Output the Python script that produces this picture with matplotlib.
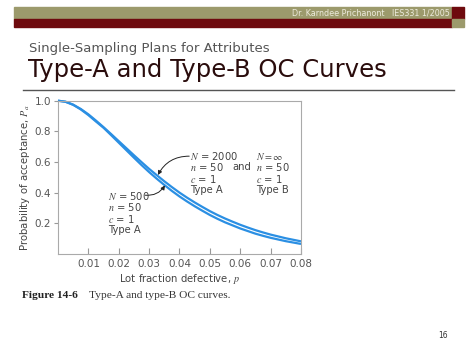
import matplotlib
matplotlib.use('Agg')
import matplotlib.pyplot as plt
from matplotlib.patches import Rectangle
from matplotlib.lines import Line2D

W, H = 474, 355

# values
p = [0.0, 0.0025, 0.005, 0.0075, 0.01, 0.0125, 0.015, 0.0175, 0.02,
     0.0225, 0.025, 0.0275, 0.03, 0.0325, 0.035, 0.0375, 0.04,
     0.0425, 0.045, 0.0475, 0.05, 0.0525, 0.055, 0.0575, 0.06,
     0.0625, 0.065, 0.0675, 0.07, 0.0725, 0.075, 0.0775, 0.08]
pa_typeb = [1.0, 0.993, 0.974, 0.946, 0.911, 0.870, 0.827, 0.782, 0.736,
            0.690, 0.644, 0.599, 0.555, 0.514, 0.474, 0.436, 0.400,
            0.367, 0.336, 0.307, 0.279, 0.254, 0.231, 0.210, 0.190,
            0.172, 0.155, 0.140, 0.126, 0.114, 0.102, 0.092, 0.082]
pa_n500 = [1.0, 0.993, 0.973, 0.943, 0.906, 0.864, 0.823, 0.775, 0.726,
           0.677, 0.628, 0.580, 0.534, 0.491, 0.450, 0.411, 0.375,
           0.342, 0.311, 0.282, 0.254, 0.229, 0.206, 0.186, 0.166,
           0.149, 0.132, 0.118, 0.105, 0.094, 0.083, 0.074, 0.065]
xticks = [0.01, 0.02, 0.03, 0.04, 0.05, 0.06, 0.07, 0.08]
yticks = [0.2, 0.4, 0.6, 0.8, 1.0]

plt.rcParams['mathtext.fontset'] = 'stix'

fig = plt.figure(figsize=(W / 100, H / 100), dpi=100)
fig.patch.set_facecolor('white')


def fx(x):
    return x / W


def fy(y):
    return 1 - y / H


# header bar
olive = '#9c9a6c'
maroon = '#6e0a0e'
fig.patches.append(Rectangle((fx(14), fy(19)), fx(452 - 14), 12 / H, transform=fig.transFigure, color=olive))
fig.patches.append(Rectangle((fx(14), fy(26.5)), fx(452 - 14), 7.5 / H, transform=fig.transFigure, color=maroon))
fig.patches.append(Rectangle((fx(452), fy(19)), fx(11.5), 12 / H, transform=fig.transFigure, color=maroon))
fig.patches.append(Rectangle((fx(452), fy(26.5)), fx(11.5), 7.5 / H, transform=fig.transFigure, color=olive))
fig.text(fx(450), fy(13.5), 'Dr. Karndee Prichanont   IES331 1/2005', ha='right', va='center',
         fontsize=5.8, color='#ecebdc')

# titles
fig.text(fx(29), fy(48.5), 'Single-Sampling Plans for Attributes', ha='left', va='center',
         fontsize=9.5, color='#555555')
fig.text(fx(28), fy(70), 'Type-A and Type-B OC Curves', ha='left', va='center',
         fontsize=17.5, color='#2a0c0c')
fig.lines.append(Line2D([fx(23), fx(454)], [fy(90), fy(90)], transform=fig.transFigure,
                        color='#555555', lw=1.0))

# chart
ax = fig.add_axes([fx(58), fy(253.9), fx(301 - 58), 153.2 / H])
blue = '#2b8fe3'
ax.plot(p, pa_typeb, color=blue, lw=1.6, solid_capstyle='butt', clip_on=False)
ax.plot(p, pa_n500, color=blue, lw=1.6, solid_capstyle='butt', clip_on=False)
ax.set_xlim(0, 0.08)
ax.set_ylim(0, 1.0)
ax.set_xticks(xticks)
ax.set_xticklabels(['%.2f' % v for v in xticks])
ax.set_yticks(yticks)
ax.set_yticklabels(['%.1f' % v for v in yticks])
for s in ax.spines.values():
    s.set_color('#aaaaaa')
    s.set_linewidth(0.8)
ax.tick_params(axis='x', direction='in', length=4, width=0.8, color='#999999',
               labelsize=7.5, labelcolor='#555555', pad=4)
ax.tick_params(axis='y', direction='out', length=3, width=0.8, color='#999999',
               labelsize=7.5, labelcolor='#555555', pad=2)
ax.set_xlabel('Lot fraction defective, $p$', fontsize=7.3, color='#444444', labelpad=2)
ax.set_ylabel('Probability of acceptance, $P_a$', fontsize=7.3, color='#444444', labelpad=2)

fs = 7.2
col = '#444444'
lab_2000 = ['$N$ = 2000', '$n$ = 50', '$c$ = 1', 'Type A']
lab_inf = ['$N = \\infty$', '$n$ = 50', '$c$ = 1', 'Type B']
lab_500 = ['$N$ = 500', '$n$ = 50', '$c$ = 1', 'Type A']
for i in range(4):
    fig.text(fx(190), fy(156 + i * 11.4), lab_2000[i], fontsize=fs, color=col, va='center')
    fig.text(fx(256), fy(156 + i * 11.4), lab_inf[i], fontsize=fs, color=col, va='center')
    fig.text(fx(108), fy(196 + i * 11.4), lab_500[i], fontsize=fs, color=col, va='center')
fig.text(fx(232), fy(167.5), 'and', fontsize=fs, color=col, va='center')

ax.annotate('', xy=(0.0329, 0.515), xytext=(0.0432, 0.638),
            arrowprops=dict(arrowstyle='-|>', color='#222222', lw=0.7, mutation_scale=6,
                            connectionstyle='arc3,rad=0.3', shrinkA=0, shrinkB=0))
ax.annotate('', xy=(0.0352, 0.447), xytext=(0.0287, 0.383),
            arrowprops=dict(arrowstyle='-|>', color='#222222', lw=0.7, mutation_scale=6,
                            connectionstyle='arc3,rad=0.3', shrinkA=0, shrinkB=0))

# caption
fig.text(fx(22), fy(295), 'Figure 14-6', fontsize=8.2, fontweight='bold', family='Liberation Serif',
         va='center', color='#222222')
fig.text(fx(89), fy(295), 'Type-A and type-B OC curves.', fontsize=8.2, family='Liberation Serif',
         va='center', color='#333333')
fig.text(fx(448), fy(336), '16', fontsize=5.5, ha='right', va='center', color='#333333')

fig.savefig('out.png', dpi=100)
